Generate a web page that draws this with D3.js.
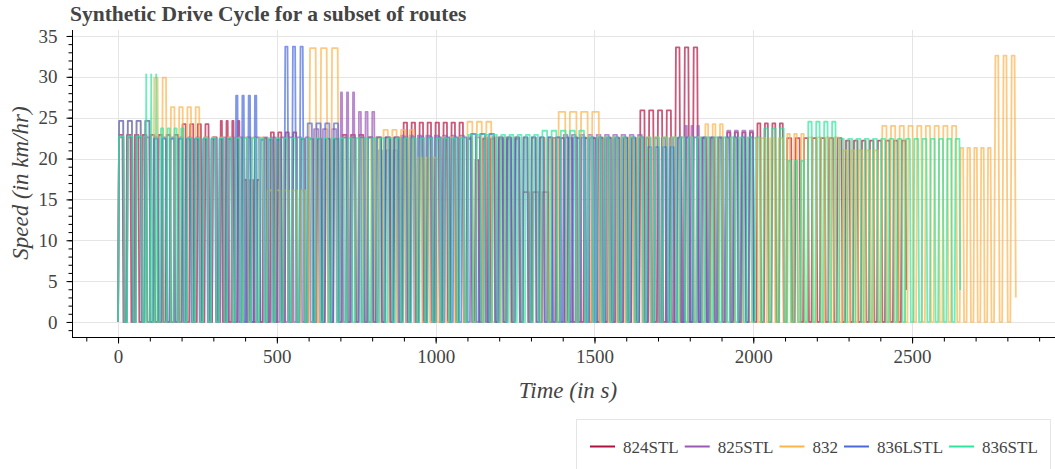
<!DOCTYPE html>
<html>
<head>
<meta charset="utf-8">
<script src="https://cdn.jsdelivr.net/npm/d3@7"></script>
<style>
  body { margin: 0; background: #fff; }
  svg { display: block; }
  text { font-family: "Liberation Serif", "Times New Roman", serif; fill: #444; }
</style>
</head>
<body>
<svg id="chart" width="1055" height="469"></svg>
<script>
// Routes and their line colours
const routes = ["824STL", "825STL", "832", "836LSTL", "836STL"];
const routeColors = ["#b0123f", "#9b59b6", "#fdb44b", "#4a69dd", "#2ee59d"];

// Stop groups for each route: [group end time (s), cruise speed (km/hr), number of stops]
const cycle824STL = [
  [200, 22.9, 8], [296, 24.2, 4], [320, 22.6, 1], [393, 24.6, 4], [456, 17.4, 3],
  [478, 22.5, 1], [572, 23.2, 4], [704, 22.4, 5], [783, 22.9, 3], [896, 22.6, 4],
  [1097, 24.4, 8], [1123, 22.4, 1], [1145, 19.8, 1], [1273, 22.4, 5], [1365, 15.9, 3],
  [1641, 22.5, 11], [1752, 25.9, 4], [1836, 33.6, 3], [1915, 22.5, 3], [2010, 23.2, 4],
  [2104, 24.3, 4], [2289, 22.5, 7], [2490, 22.2, 8]
];
const cycle825STL = [
  [110, 22.6, 4], [614, 22.6, 19], [698, 23.6, 3], [755, 28.1, 3], [818, 25.7, 3],
  [888, 21.0, 3], [1100, 22.8, 8], [1400, 22.6, 12], [1660, 22.9, 10], [1783, 22.5, 5],
  [1840, 24.0, 3], [1915, 22.6, 3], [2010, 23.4, 4]
];
const cycle832 = [
  [110, 24.6, 4], [163, 29.9, 2], [267, 26.3, 4], [469, 22.6, 8], [600, 16.1, 5],
  [704, 33.5, 3], [833, 22.6, 5], [943, 23.5, 4], [1013, 20.1, 3], [1097, 22.6, 3],
  [1186, 24.5, 3], [1273, 22.6, 3], [1384, 22.5, 4], [1525, 25.7, 4], [1846, 22.6, 12],
  [1915, 24.2, 3], [2104, 22.5, 7], [2170, 23.0, 3], [2280, 22.6, 4], [2403, 21.0, 5],
  [2650, 24.0, 9], [2758, 21.3, 5], [2835, 32.6, 3]
];
const cycle836LSTL = [
  [110, 24.6, 4], [368, 22.4, 10], [447, 27.7, 4], [522, 22.3, 3], [594, 33.7, 3],
  [704, 24.3, 4], [1108, 22.6, 15], [1195, 23.0, 3], [1666, 22.6, 18], [1760, 21.4, 4],
  [2010, 22.6, 10]
];
const cycle836STL = [
  [85, 22.7, 3], [132, 30.3, 3], [217, 23.7, 4], [1100, 22.5, 35], [1333, 22.9, 9],
  [1478, 23.4, 5], [2031, 22.6, 21], [2107, 23.7, 3], [2170, 19.7, 3], [2270, 24.5, 4],
  [2660, 22.4, 15]
];
// Speed reached when each recorded cycle stops
const finalSpeeds = [3.9, 0, 3.0, 0, 3.9];

const xTicks = [0, 500, 1000, 1500, 2000, 2500];
const yTicks = [0, 5, 10, 15, 20, 25, 30, 35];

const cycles = [cycle824STL, cycle825STL, cycle832, cycle836LSTL, cycle836STL];

// Drive cycle shape
const RAMP_RATE = 7.5;   // km/hr gained or lost per second
const DWELL = 8;         // seconds stopped at each stop

function cyclePoints(groups, finalSpeed) {
  const pts = [[0, 0]];
  let t0 = 0;
  groups.forEach(([tEnd, v, n], gi) => {
    const period = (tEnd - t0) / n;
    const ramp = v / RAMP_RATE;
    for (let k = 0; k < n; k++) {
      const s = t0 + k * period;
      const isLast = gi === groups.length - 1 && k === n - 1;
      pts.push([s + ramp, v]);
      pts.push([s + period - DWELL - ramp, v]);
      if (isLast && finalSpeed > 0) {
        pts.push([s + period - DWELL - ramp * finalSpeed / v, finalSpeed]);
      } else {
        pts.push([s + period - DWELL, 0]);
        if (!isLast) pts.push([s + period, 0]);
      }
    }
    t0 = tEnd;
  });
  return pts;
}

const svg = d3.select("#chart");
const frame = { left: 72, right: 1062, top: 30, bottom: 337 };

const x = d3.scaleLinear().domain([-145, 2972]).range([frame.left, frame.right]);
const y = d3.scaleLinear().domain([-1.84, 35.73]).range([frame.bottom, frame.top]);

// Grid
const grid = svg.append("g");
grid.selectAll("line.gx").data(xTicks).join("line")
  .attr("x1", d => Math.round(x(d)) + 0.5).attr("x2", d => Math.round(x(d)) + 0.5)
  .attr("y1", frame.top).attr("y2", frame.bottom)
  .attr("stroke", "#e5e5e5").attr("stroke-width", 1);
grid.selectAll("line.gy").data(yTicks).join("line")
  .attr("y1", d => Math.round(y(d)) + 0.5).attr("y2", d => Math.round(y(d)) + 0.5)
  .attr("x1", frame.left).attr("x2", 1055)
  .attr("stroke", "#e5e5e5").attr("stroke-width", 1);

// Drive cycle lines
const plot = svg.append("g");
const line = d3.line().x(d => x(d[0])).y(d => y(d[1]));
cycles.forEach((groups, i) => {
  plot.append("path")
    .datum(cyclePoints(groups, finalSpeeds[i]))
    .attr("d", line)
    .attr("fill", "none")
    .attr("stroke", routeColors[i])
    .attr("stroke-width", 1.8)
    .attr("stroke-opacity", 0.7)
    .attr("stroke-linejoin", "round");
});

// Axes
const fmt = d3.format("d");
const xAxis = svg.append("g").attr("transform", `translate(0,${frame.bottom + 0.5})`);
xAxis.call(d3.axisBottom(x).tickValues(d3.range(-100, 3000, 100)).tickSize(4).tickFormat(""));
xAxis.append("g").call(d3.axisBottom(x).tickValues(xTicks).tickFormat(fmt).tickSize(6).tickPadding(6));
xAxis.selectAll(".domain").attr("stroke", "#000");
xAxis.selectAll(".tick line").attr("stroke", "#000");
xAxis.selectAll(".tick text").attr("font-size", 19).attr("fill", "#444")
  .style("font-family", '"Liberation Serif", serif');
xAxis.selectAll(".domain").attr("d", `M${frame.left},0H1055`);

const yAxis = svg.append("g").attr("transform", `translate(${frame.left + 0.5},0)`);
yAxis.call(d3.axisLeft(y).tickValues(d3.range(-1, 36, 1)).tickSize(4).tickFormat(""));
yAxis.append("g").call(d3.axisLeft(y).tickValues(yTicks).tickFormat(fmt).tickSize(6).tickPadding(9));
yAxis.selectAll(".domain").attr("stroke", "#000");
yAxis.selectAll(".tick line").attr("stroke", "#000");
yAxis.selectAll(".tick text").attr("font-size", 19).attr("fill", "#444")
  .style("font-family", '"Liberation Serif", serif');
yAxis.selectAll(".domain").attr("d", `M0,${frame.top}V${frame.bottom}`);

// Title and axis labels
svg.append("text").attr("x", 70).attr("y", 21)
  .attr("font-size", 21.5).attr("font-weight", "bold").text("Synthetic Drive Cycle for a subset of routes");
svg.append("text").attr("x", 568).attr("y", 398).attr("text-anchor", "middle")
  .attr("font-size", 23).attr("font-style", "italic").text("Time (in s)");
svg.append("text").attr("transform", "translate(28,183) rotate(-90)").attr("text-anchor", "middle")
  .attr("font-size", 23).attr("font-style", "italic").text("Speed (in km/hr)");

// Legend
const legend = svg.append("g");
legend.append("rect").attr("x", 576.5).attr("y", 419.5).attr("width", 474).attr("height", 60)
  .attr("fill", "#fff").attr("stroke", "#e5e5e5");
let lx = 590;
routes.forEach((r, i) => {
  const item = legend.append("g");
  item.append("line").attr("x1", lx).attr("x2", lx + 25).attr("y1", 446.5).attr("y2", 446.5)
    .attr("stroke", routeColors[i]).attr("stroke-width", 2);
  const t = item.append("text").attr("x", lx + 33).attr("y", 453).attr("font-size", 17).text(r);
  lx += 33 + t.node().getComputedTextLength() + 6;
});
</script>
</body>
</html>
